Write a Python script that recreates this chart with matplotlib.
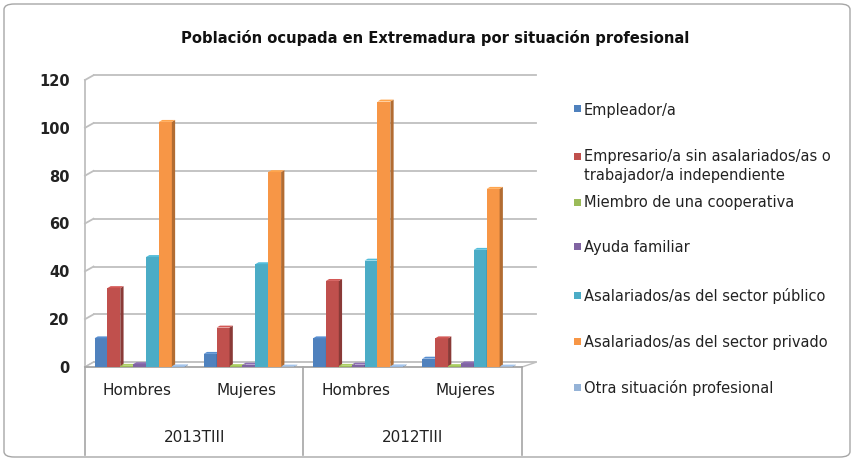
import matplotlib
matplotlib.use("Agg")
import matplotlib.pyplot as plt
from matplotlib.patches import Polygon, Rectangle, FancyBboxPatch
import matplotlib.colors as mcolors
import numpy as np

plt.rcParams['font.family'] = ['DejaVu Sans']

title = "Población ocupada en Extremadura por situación profesional"
sexes = ["Hombres", "Mujeres", "Hombres", "Mujeres"]
periods = ["2013TIII", "2012TIII"]
series_names = [
    "Empleador/a",
    "Empresario/a sin asalariados/as o\ntrabajador/a independiente",
    "Miembro de una cooperativa",
    "Ayuda familiar",
    "Asalariados/as del sector público",
    "Asalariados/as del sector privado",
    "Otra situación profesional",
]
empleador = [12.0, 5.5, 12.0, 3.5]
empresario = [33.0, 16.5, 36.0, 12.0]
cooperativa = [0.5, 0.4, 0.5, 0.4]
ayuda = [1.2, 1.0, 1.0, 1.5]
publico = [46.0, 43.0, 44.5, 49.0]
privado = [102.5, 81.5, 111.0, 74.5]
otra = [0.3, 0.2, 0.3, 0.2]
series_values = [empleador, empresario, cooperativa, ayuda, publico, privado, otra]
colors = ["#4F81BD", "#C0504D", "#9BBB59", "#8064A2", "#4BACC6", "#F79646", "#95B3D7"]
yticks = [0, 20, 40, 60, 80, 100, 120]

W, H = 854, 461
fig = plt.figure(figsize=(W / 100, H / 100), dpi=100)

# outer rounded border
fig.patches.append(FancyBboxPatch((4 / W, 4 / H), (W - 8) / W, (H - 8) / H,
                                  boxstyle="round,pad=0,rounding_size=0.012",
                                  transform=fig.transFigure, fill=False,
                                  edgecolor="#A6A6A6", linewidth=1.0))

ax_l, ax_r, ax_b, ax_t = 85, 522, 367, 80
ax = fig.add_axes([ax_l / W, 1 - ax_b / H, (ax_r - ax_l) / W, (ax_b - ax_t) / H])
ax.set_xlim(-0.5, 3.5)
ax.set_ylim(0, 120)
for s in ax.spines.values():
    s.set_visible(False)
ax.set_xticks([])
ax.set_yticks(yticks)
ax.tick_params(axis='y', length=0, pad=11, labelsize=10.5)
for lab in ax.get_yticklabels():
    lab.set_fontweight('bold')
    lab.set_color('#222222')

# gridlines with slight perspective
dx_depth = 0.13
dy_depth = 2.0
for yv in yticks:
    ax.plot([-0.5, -0.5 + dx_depth * 0.6], [yv, yv + dy_depth], color="#BFBFBF", lw=1.3,
            clip_on=False, zorder=1)
    ax.plot([-0.5 + dx_depth * 0.6, 3.5 + dx_depth], [yv + dy_depth, yv + dy_depth],
            color="#BFBFBF", lw=1.3, clip_on=False, zorder=1)
ax.plot([-0.5, -0.5], [0, 120], color="#BFBFBF", lw=1.3, clip_on=False, zorder=1)
# floor
ax.add_patch(Polygon([[-0.5, 0], [3.5, 0], [3.5 + dx_depth, dy_depth], [-0.5 + dx_depth * 0.6, dy_depth]],
                     closed=True, facecolor="white", edgecolor="#BFBFBF", lw=1.0, zorder=1.5,
                     clip_on=False))

n = len(series_values)
bw = 0.118
x = np.arange(len(sexes))
side_dx = 0.03
side_dy = 0.8
for i, (vals, c) in enumerate(zip(series_values, colors)):
    offs = (i - (n - 1) / 2) * bw
    bars = ax.bar(x + offs, vals, width=bw, color=c, edgecolor="none", zorder=3 + i * 0.01,
                  label=series_names[i])
    dark = np.array(mcolors.to_rgb(c)) * 0.72
    light = np.clip(np.array(mcolors.to_rgb(c)) * 1.1, 0, 1)
    for b in bars:
        x0 = b.get_x()
        x1 = x0 + b.get_width()
        h = b.get_height()
        ax.add_patch(Polygon([[x1, 0], [x1 + side_dx, side_dy], [x1 + side_dx, h + side_dy], [x1, h]],
                             closed=True, facecolor=dark, edgecolor="none", zorder=3 + i * 0.01,
                             clip_on=False))
        ax.add_patch(Polygon([[x0, h], [x1, h], [x1 + side_dx, h + side_dy], [x0 + side_dx, h + side_dy]],
                             closed=True, facecolor=light, edgecolor="none", zorder=3 + i * 0.01,
                             clip_on=False))

# two-level category axis
line_col = "#A6A6A6"
for xb in [-0.5, 1.5, 3.5]:
    ax.plot([xb, xb], [0, -37], color=line_col, lw=1.2, clip_on=False)
ax.plot([-0.5, 3.5], [0, 0], color=line_col, lw=1.2, clip_on=False, zorder=2)
for xi, s in zip(x, sexes):
    ax.text(xi - 0.02, -10, s, ha='center', va='center', fontsize=11, color='#222222')
for k, p in enumerate(periods):
    ax.text(0.5 + 2 * k, -29.5, p, ha='center', va='center', fontsize=11, color='#222222')

fig.text(435 / W, 1 - 38 / H, title, ha='center', va='center', fontsize=10.6, fontweight='bold',
         color='#111111')

# legend (manual)
leg_y = [110, 166, 203, 247, 296, 342, 388]
for name, c, yy in zip(series_names, colors, leg_y):
    my = yy - 1 if '\n' not in name else yy - 10
    fig.patches.append(Rectangle((574 / W, 1 - (my + 3.5) / H),
                                 7 / W, 7 / H, transform=fig.transFigure, facecolor=c,
                                 edgecolor='none'))
    fig.text(584 / W, 1 - yy / H, name, ha='left', va='center', fontsize=10.5,
             color='#222222', linespacing=1.35)

fig.savefig("out.png", dpi=100)
